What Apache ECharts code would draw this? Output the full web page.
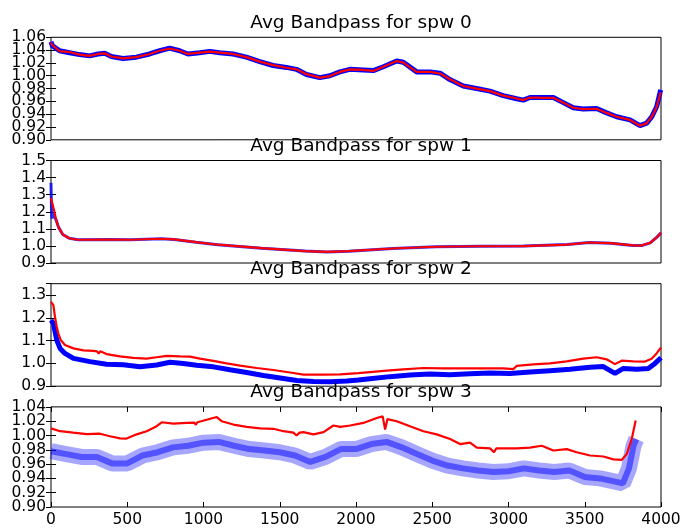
<!DOCTYPE html>
<html>
<head>
<meta charset="utf-8">
<script src="https://cdn.jsdelivr.net/npm/echarts@6/dist/echarts.min.js"></script>
<style>html,body{margin:0;padding:0;background:#fff}#c{width:684px;height:528px}</style>
</head>
<body>
<div id="c"></div>
<script>
// ---- data ----
const titles = ["Avg Bandpass for spw 0", "Avg Bandpass for spw 1", "Avg Bandpass for spw 2", "Avg Bandpass for spw 3"];
const xTickLabels = [0, 500, 1000, 1500, 2000, 2500, 3000, 3500, 4000];

const spw0Chan = [0,8,54,117,180,243,296,338,380,453,537,621,684,747,810,862,936,999,1062,1146,1230,1314,1398,1482,1545,1608,1692,1755,1818,1881,1966,2029,2092,2176,2218,2302,2386,2449,2511,2595,2679,2763,2847,2931,2973,3015,3099,3162,3225,3288,3351,3435,3498,3561,3645,3708,3750,3782,3813,3838];
const spw0Red  = [1.052,1.048,1.0385,1.037,1.033,1.031,1.034,1.035,1.030,1.027,1.029,1.034,1.039,1.0425,1.039,1.034,1.036,1.0375,1.036,1.034,1.029,1.022,1.0165,1.0125,1.010,1.0025,0.997,0.9995,1.006,1.010,1.009,1.0075,1.014,1.023,1.0205,1.006,1.006,1.0035,0.9945,0.984,0.980,0.976,0.969,0.9645,0.962,0.966,0.9655,0.9655,0.958,0.950,0.948,0.9485,0.942,0.936,0.931,0.922,0.926,0.936,0.9515,0.974];
const spw0Blue = [1.053,1.047,1.039,1.036,1.033,1.031,1.034,1.035,1.030,1.027,1.029,1.034,1.039,1.043,1.039,1.034,1.036,1.038,1.036,1.034,1.029,1.022,1.016,1.013,1.010,1.002,0.997,1.000,1.006,1.010,1.009,1.008,1.014,1.023,1.021,1.006,1.006,1.004,0.994,0.984,0.980,0.976,0.969,0.964,0.962,0.966,0.966,0.966,0.958,0.950,0.948,0.949,0.942,0.936,0.931,0.922,0.926,0.936,0.952,0.978];

const spw1Chan = [0,5,19,33,47,74,115,170,363,500,693,775,913,1050,1325,1600,1737,1875,2150,2425,2700,2974,3249,3387,3524,3662,3717,3772,3813,3840];
const spw1Red  = [1.28,1.27,1.21,1.15,1.11,1.067,1.045,1.036,1.037,1.036,1.042,1.038,1.022,1.007,0.987,0.970,0.965,0.969,0.985,0.995,0.998,0.999,1.008,1.020,1.016,1.003,1.002,1.018,1.050,1.077];
const spw1BlueChan = [0,3,6,12,19,33,47,74,115,170,363,500,693,775,913,1050,1325,1600,1737,1875,2150,2425,2700,2974,3249,3387,3524,3662,3717,3772,3813,3840];
const spw1Blue = [1.37,1.22,1.16,1.19,1.20,1.15,1.11,1.067,1.045,1.036,1.037,1.036,1.042,1.038,1.022,1.007,0.987,0.970,0.965,0.969,0.985,0.995,0.998,0.999,1.008,1.020,1.016,1.003,1.002,1.018,1.050,1.077];

const spw2RedChan = [0,15,25,36,46,61,88,141,204,266,290,300,310,350,434,518,602,665,728,812,875,938,1022,1106,1190,1295,1400,1505,1590,1715,1820,1935,2008,2113,2218,2344,2469,2595,2721,2847,2910,2920,2931,3036,3141,3246,3351,3435,3498,3550,3592,3665,3739,3781,3812,3840];
const spw2Red  = [1.27,1.256,1.205,1.161,1.132,1.103,1.081,1.066,1.057,1.055,1.053,1.043,1.053,1.041,1.031,1.024,1.021,1.027,1.033,1.031,1.030,1.021,1.011,1.000,0.990,0.980,0.971,0.960,0.951,0.951,0.952,0.957,0.962,0.968,0.974,0.980,0.978,0.978,0.978,0.978,0.975,0.972,0.989,0.996,1.000,1.009,1.021,1.027,1.018,0.997,1.012,1.009,1.008,1.021,1.044,1.07];
const spw2BlueChan = [0,15,36,57,88,141,245,350,455,560,665,749,833,917,1022,1127,1232,1337,1442,1547,1652,1757,1862,1935,2008,2134,2260,2385,2511,2637,2763,2889,3015,3141,3267,3393,3477,3550,3603,3687,3760,3802,3840];
const spw2Blue = [1.19,1.176,1.103,1.066,1.044,1.022,1.008,0.996,0.994,0.985,0.993,1.005,1.000,0.992,0.985,0.972,0.960,0.947,0.936,0.925,0.921,0.920,0.923,0.927,0.933,0.942,0.949,0.954,0.950,0.955,0.958,0.956,0.962,0.968,0.974,0.983,0.986,0.956,0.978,0.974,0.978,1.000,1.025];

const spw3RedChan = [0,11,59,146,234,321,387,452,496,562,627,693,726,802,890,940,950,960,1021,1087,1119,1196,1283,1371,1458,1524,1590,1610,1630,1655,1721,1787,1852,1896,1962,2048,2136,2175,2191,2206,2267,2354,2442,2529,2617,2682,2748,2792,2879,2905,2920,3054,3141,3218,3294,3382,3447,3535,3622,3688,3743,3775,3808,3834];
const spw3Red  = [1.010,1.0094,1.006,1.004,1.002,1.0025,0.999,0.996,0.9957,1.0016,1.006,1.013,1.0185,1.0167,1.0176,1.018,1.015,1.0185,1.022,1.0258,1.020,1.0153,1.012,1.010,1.0094,1.006,1.004,1.000,1.004,1.0048,1.0016,1.0048,1.014,1.012,1.014,1.0176,1.0244,1.0267,1.0085,1.023,1.020,1.013,1.006,1.0016,0.995,0.988,0.990,0.983,0.982,0.9766,0.982,0.982,0.983,0.9857,0.979,0.981,0.9766,0.972,0.9706,0.9666,0.966,0.974,0.995,1.021];
const spw3BlueChan = [0,100,200,300,400,500,600,700,800,900,1000,1100,1200,1300,1400,1500,1600,1700,1800,1900,2000,2100,2200,2300,2400,2500,2600,2700,2800,2900,3000,3100,3200,3300,3400,3500,3600,3700,3750,3790,3820,3838];
const spw3Blue = [0.978,0.974,0.970,0.970,0.961,0.961,0.972,0.9766,0.9834,0.9857,0.990,0.991,0.9857,0.981,0.979,0.9766,0.972,0.963,0.970,0.981,0.981,0.988,0.991,0.9834,0.974,0.965,0.958,0.954,0.951,0.949,0.950,0.954,0.951,0.949,0.951,0.942,0.940,0.9355,0.933,0.954,0.9857,0.995];

// ---- chart ----
const pairs = (xs, ys) => xs.map((x, i) => [x, ys[i]]);
const tops = [37.3, 160.5, 283.7, 406.9];
const H = 102.5;
const yCfg = [
  {min: 0.90, max: 1.06, interval: 0.02, dec: 2, tight: true},
  {min: 0.9, max: 1.5, interval: 0.1, dec: 1, tight: false},
  {min: 0.9, max: 1.35, interval: 0.1, dec: 1, tight: false},
  {min: 0.90, max: 1.04, interval: 0.02, dec: 2, tight: true}
];
const FONT = 'DejaVu Sans';
const labelStyle = {color: '#000', fontFamily: FONT, fontSize: 15.5, margin: 5};
const tickStyle = {show: true, inside: true, length: 5, lineStyle: {color: '#000'}};
const grids = [], xAxes = [], yAxes = [], extraY = [], series = [], titleArr = [];
for (let i = 0; i < 4; i++) {
  grids.push({left: 51, width: 610, top: tops[i], height: H, show: true, borderColor: '#000', borderWidth: 1, backgroundColor: 'transparent'});
  titleArr.push({text: titles[i], left: 356, top: tops[i] - 29, textAlign: 'center',
    textStyle: {fontFamily: FONT, fontSize: 18.5, fontWeight: 'normal', color: '#000'}});
  const last = i === 3;
  xAxes.push({type: 'value', gridIndex: i, position: 'bottom', min: 0, max: last ? 4000 : 3840, interval: 500,
    axisLine: {show: false}, splitLine: {show: false},
    axisTick: Object.assign({}, tickStyle, {show: last}),
    axisLabel: Object.assign({show: last, formatter: v => xTickLabels.indexOf(v) >= 0 ? String(v) : ''}, labelStyle)});
  xAxes.push({type: 'value', gridIndex: i, position: 'top', min: 0, max: last ? 4000 : 3840, interval: 500,
    axisLine: {show: false}, splitLine: {show: false},
    axisTick: Object.assign({}, tickStyle, {show: last}),
    axisLabel: {show: false}});
  const c = yCfg[i];
  yAxes.push({type: 'value', gridIndex: i, position: 'left', min: c.min, max: c.max, interval: c.interval,
    axisLine: {show: false}, splitLine: {show: false}, axisTick: tickStyle,
    axisLabel: Object.assign({showMinLabel: !c.tight, showMaxLabel: !c.tight && i !== 2,
      formatter: v => v.toFixed(c.dec)}, labelStyle)});
  yAxes.push({type: 'value', gridIndex: i, position: 'right', min: c.min, max: c.max, interval: c.interval,
    axisLine: {show: false}, splitLine: {show: false}, axisTick: tickStyle,
    axisLabel: {show: false}});
  if (c.tight) {
    // separate axis carrying only the end labels (min / max)
    extraY.push({type: 'value', gridIndex: i, position: 'left', min: c.min, max: c.max, interval: c.max - c.min,
      axisLine: {show: false}, splitLine: {show: false}, axisTick: {show: false},
      axisLabel: Object.assign({showMinLabel: true, showMaxLabel: true, formatter: v => v.toFixed(c.dec)}, labelStyle)});
  }
}
function line(i, data, color, width, opacity, z) {
  return {type: 'line', xAxisIndex: i * 2, yAxisIndex: i * 2, data, showSymbol: false, symbol: 'none',
    lineStyle: {color, width, opacity}, z, silent: true, animation: false};
}
series.push(line(0, pairs(spw0Chan, spw0Blue), '#0000ff', 5, 1, 2));
series.push(line(0, pairs(spw0Chan, spw0Red), '#ff0000', 2.2, 1, 3));
series.push(line(1, pairs(spw1BlueChan, spw1Blue), '#0000ff', 3, 0.8, 2));
series.push(line(1, pairs(spw1Chan, spw1Red), '#ff0000', 2.2, 1, 3));
series.push(line(2, pairs(spw2BlueChan, spw2Blue), '#0000ff', 5, 1, 2));
series.push(line(2, pairs(spw2RedChan, spw2Red), '#ff0000', 2.2, 1, 3));
series.push(line(3, pairs(spw3BlueChan, spw3Blue), '#0000ff', 16, 0.35, 2));
series.push(line(3, pairs(spw3BlueChan, spw3Blue), '#0000ff', 6, 0.5, 2));
series.push(line(3, pairs(spw3RedChan, spw3Red), '#ff0000', 2.2, 1, 3));

const chart = echarts.init(document.getElementById('c'), null, {renderer: 'canvas'});
chart.setOption({animation: false, backgroundColor: '#fff', title: titleArr, grid: grids, xAxis: xAxes, yAxis: yAxes.concat(extraY), series});
</script>
</body>
</html>
